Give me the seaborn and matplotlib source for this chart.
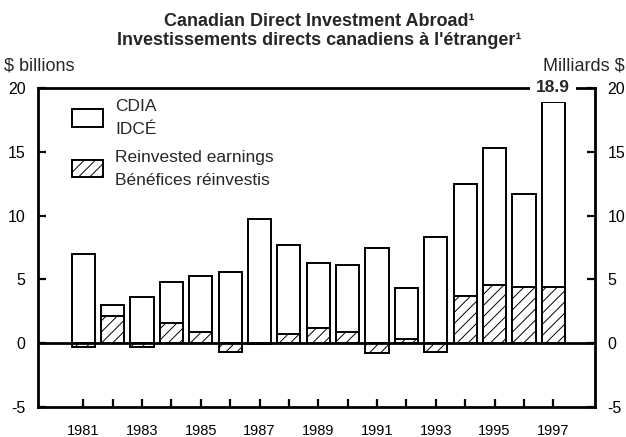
import matplotlib
matplotlib.use("Agg")
import matplotlib.pyplot as plt
import seaborn as sns
import pandas as pd
from matplotlib.patches import Patch

# ---- data ----
years = [str(y) for y in range(1981, 1998)]
cdia = [7.0, 3.0, 3.6, 4.8, 5.3, 5.6, 9.7, 7.7, 6.3, 6.1, 7.5, 4.3, 8.3, 12.5, 15.3, 11.7, 18.9]
reinvested = [-0.3, 2.1, -0.3, 1.6, 0.9, -0.7, -0.1, 0.7, 1.2, 0.9, -0.8, 0.3, -0.7, 3.7, 4.6, 4.4, 4.4]
yticks = [-5, 0, 5, 10, 15, 20]
xticklabels = [y if i % 2 == 0 else "" for i, y in enumerate(years)]

title1 = "Canadian Direct Investment Abroad\u00b9"
title2 = "Investissements directs canadiens \u00e0 l'\u00e9tranger\u00b9"
left_unit = "$ billions"
right_unit = "Milliards $"
leg_labels = ["CDIA\nIDC\u00c9", "Reinvested earnings\nB\u00e9n\u00e9fices r\u00e9investis"]
top_label = "18.9"

sns.set_style("white")
plt.rcParams["font.family"] = ["Liberation Sans", "DejaVu Sans"]
plt.rcParams["hatch.linewidth"] = 0.7

W, H = 626, 437
fig = plt.figure(figsize=(W / 100, H / 100), dpi=100)
ax = fig.add_axes([38 / W, 1 - 407 / H, (595 - 38) / W, (407 - 88) / H])

df_c = pd.DataFrame({"year": years, "value": cdia})
df_r = pd.DataFrame({"year": years, "value": reinvested})

sns.barplot(data=df_c, x="year", y="value", color="white", edgecolor="black",
            linewidth=1.4, width=0.79, saturation=1, errorbar=None, ax=ax)
sns.barplot(data=df_r, x="year", y="value", color="white", edgecolor="black",
            linewidth=1.4, width=0.79, saturation=1, errorbar=None, ax=ax)
for p in ax.containers[1]:
    p.set_hatch("///")

ax.axhline(0, color="black", lw=2.0, zorder=4)

ax.set_ylim(-5, 20)
ax.set_xlim(-1.54, 16 + 1.42)
ax.set_yticks(yticks)
ax.set_yticklabels([str(v) for v in yticks])
ax.set_xticks(range(len(years)))
ax.set_xticklabels(xticklabels)
ax.set_xlabel("")
ax.set_ylabel("")

for s in ax.spines.values():
    s.set_visible(True)
    s.set_color("black")
    s.set_linewidth(2.0)

ax.tick_params(axis="y", which="both", direction="in", length=6, width=1.6,
               left=True, right=True, labelleft=True, labelright=True,
               labelsize=11.5, pad=9, colors="black")
ax.tick_params(axis="x", direction="in", length=6, width=1.6, bottom=True,
               labelsize=10.5, pad=12.5, colors="black")

# 18.9 label breaking the top frame
ax.text(16, 20, top_label, ha="center", va="center", fontsize=12.5,
        fontweight="bold", zorder=5,
        bbox=dict(facecolor="white", edgecolor="none", pad=4.5))

# titles and unit labels
fig.text(319 / W, 1 - 26 / H, title1, ha="center", va="baseline",
         fontsize=13, fontweight="bold")
fig.text(319 / W, 1 - 45 / H, title2, ha="center", va="baseline",
         fontsize=13, fontweight="bold")
fig.text(4 / W, 1 - 71 / H, left_unit, ha="left", va="baseline", fontsize=13)
fig.text(625 / W, 1 - 71 / H, right_unit, ha="right", va="baseline", fontsize=13)

handles = [Patch(facecolor="white", edgecolor="black", linewidth=1.4),
           Patch(facecolor="white", edgecolor="black", linewidth=1.4, hatch="///")]
leg = ax.legend(handles, leg_labels, loc="upper left",
                bbox_to_anchor=(72 / W, 1 - 99 / H), bbox_transform=fig.transFigure,
                frameon=False, fontsize=12.5, borderpad=0, borderaxespad=0,
                handlelength=1.8, handleheight=1.15, handletextpad=0.7,
                labelspacing=0.75)
for t in leg.get_texts():
    t.set_linespacing(1.65)

fig.savefig("out.png", dpi=100)
